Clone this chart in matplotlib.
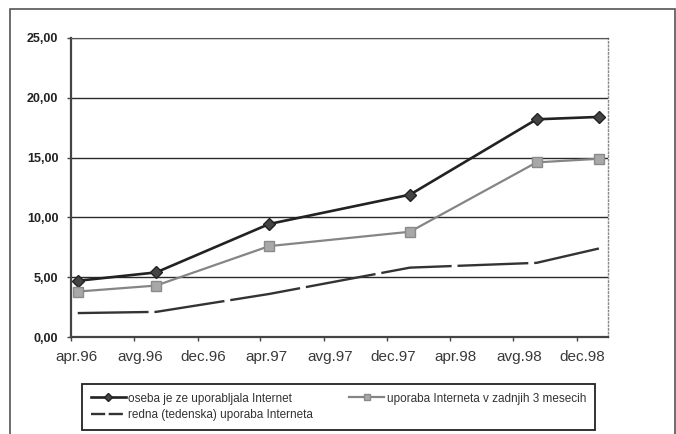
import datetime

import matplotlib
matplotlib.use('Agg')
import matplotlib.pyplot as plt
import matplotlib.transforms as mtransforms
from matplotlib.patches import Rectangle

plt.rcParams['font.family'] = ['Liberation Sans', 'DejaVu Sans']

# survey dates and shares (%)
dates = [datetime.date(1996, 4, 14), datetime.date(1996, 9, 12),
         datetime.date(1997, 4, 18), datetime.date(1998, 1, 14),
         datetime.date(1998, 9, 15), datetime.date(1999, 1, 13)]
ever_used = [4.7, 5.4, 9.45, 11.9, 18.2, 18.4]
last_3_months = [3.8, 4.3, 7.6, 8.8, 14.6, 14.9]
weekly_use = [2.0, 2.1, 3.6, 5.8, 6.2, 7.4]

labels = ['oseba je ze uporabljala Internet',
          'uporaba Interneta v zadnjih 3 mesecih',
          'redna (tedenska) uporaba Interneta']

tick_dates = [datetime.date(1996, 4, 1), datetime.date(1996, 8, 1),
              datetime.date(1996, 12, 1), datetime.date(1997, 4, 1),
              datetime.date(1997, 8, 1), datetime.date(1997, 12, 1),
              datetime.date(1998, 4, 1), datetime.date(1998, 8, 1),
              datetime.date(1998, 12, 1)]
tick_labels = ['apr.96', 'avg.96', 'dec.96', 'apr.97', 'avg.97',
               'dec.97', 'apr.98', 'avg.98', 'dec.98']
y_ticks = [0, 5, 10, 15, 20, 25]

fig = plt.figure(figsize=(6.76, 4.34), dpi=100)
ax = fig.add_axes([0.105, 0.2235, 0.794, 0.689])

# outer chart frame
fig.patches.append(Rectangle((10 / 676, -0.05), 665 / 676, 1.05 - 9 / 434,
                             transform=fig.transFigure, fill=False,
                             edgecolor='#555555', linewidth=1.2))

l1, = ax.plot(dates, ever_used, color='#222222', lw=1.9, marker='D',
              markersize=6.5, markerfacecolor='#444444',
              markeredgecolor='#222222', label=labels[0])
l2, = ax.plot(dates, last_3_months, color='#858585', lw=1.6, marker='s',
              markersize=7.5, markerfacecolor='#a8a8a8',
              markeredgecolor='#8a8a8a', label=labels[1])
l3, = ax.plot(dates, weekly_use, color='#333333', lw=1.7,
              linestyle=(0, (30, 2.5)), label=labels[2])

ax.set_ylim(0, 25)
ax.set_xlim(datetime.date(1996, 4, 1), datetime.date(1999, 1, 30))
ax.set_yticks(y_ticks)
ax.set_yticklabels([f'{v:.2f}'.replace('.', ',') for v in y_ticks],
                   fontsize=9, fontweight='bold', color='#222222')
ax.set_xticks(tick_dates)
ax.set_xticklabels(tick_labels, fontsize=11, color='#3a3a3a')
ax.tick_params(axis='x', length=3, width=1, direction='out', pad=6,
               color='#444444')
ax.tick_params(axis='y', length=3, width=1, direction='out', pad=6,
               color='#444444')
shift = mtransforms.ScaledTranslation(6 / 100, 0, fig.dpi_scale_trans)
for lab in ax.get_xticklabels():
    lab.set_transform(lab.get_transform() + shift)

ax.yaxis.grid(True, color='#2a2a2a', linewidth=1.0)
ax.set_axisbelow(True)
for side in ['left', 'bottom']:
    ax.spines[side].set_color('#444444')
    ax.spines[side].set_linewidth(1.6)
ax.spines['top'].set_color('#555555')
ax.spines['top'].set_linewidth(0.8)
ax.spines['right'].set_color('#888888')
ax.spines['right'].set_linestyle(':')
ax.spines['right'].set_linewidth(1.0)

leg = fig.legend([l1, l3, l2], [labels[0], labels[2], labels[1]], ncol=2,
                 loc='lower left', mode='expand',
                 bbox_to_anchor=(0.121, 0.009, 0.759, 0.104),
                 bbox_transform=fig.transFigure, fontsize=8.5,
                 handlelength=3.0, handletextpad=0.2, columnspacing=0.5,
                 labelspacing=0.4, borderpad=0.75, borderaxespad=0,
                 fancybox=False, framealpha=1, edgecolor='#222222',
                 markerscale=0.6)
leg.get_frame().set_linewidth(1.3)
leg.get_lines()[1].set_linestyle((0, (6, 1.5)))
for t in leg.get_texts():
    t.set_color('#333333')

plt.savefig('out.png', dpi=100)
